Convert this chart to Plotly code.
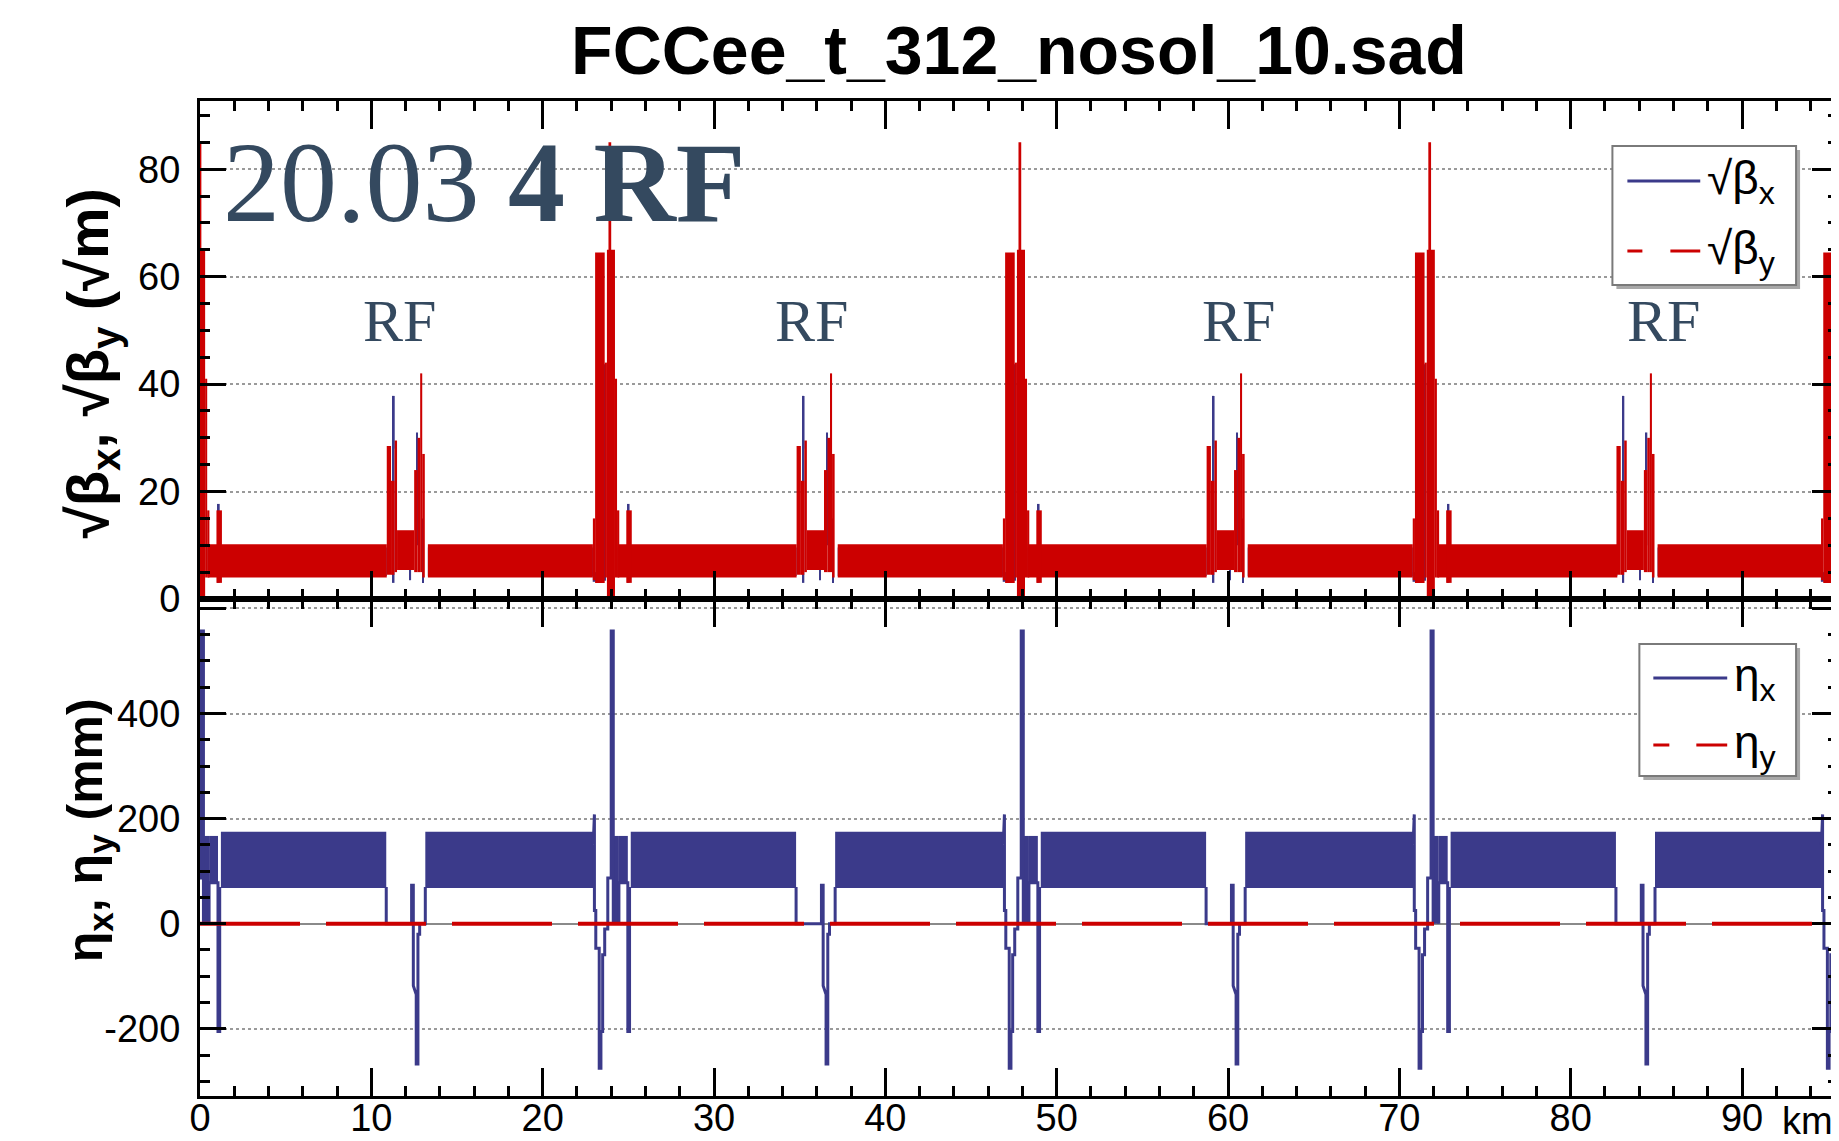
import plotly.graph_objects as go

# ---------------- data ----------------
RING_KM = 95.6                                   # length shown on the s axis (km)
IR_KM = [0.0, 23.92, 47.85, 71.77, 95.6]         # interaction-region centres (tall peaks)
QUARTER_KM = [0.0, 23.92, 47.85, 71.77]          # superperiod starts (RF straight sits ~11-13 km later)

# arcs: dense regular cells drawn as min/max envelopes
ARC_START = [0.45, 13.30, 24.37, 37.22, 48.30, 61.15, 72.22, 85.07]
ARC_END = [10.90, 22.93, 34.82, 46.86, 58.75, 70.78, 82.72, 94.66]
SQBX_ARC = (4.3, 9.6)        # sqrt(beta_x) envelope in the arcs (sqrt m)
SQBY_ARC = (4.0, 10.2)       # sqrt(beta_y) envelope in the arcs (sqrt m)

ETA_ARC_START = [1.22, 13.15, 25.14, 37.07, 49.07, 61.00, 72.99, 84.92]
ETA_ARC_END = [10.87, 22.95, 34.79, 46.87, 58.72, 70.80, 82.64, 94.66]
ETAX_ARC = (68.0, 175.0)     # eta_x envelope in the arcs (mm)

# interaction region, offsets from the IR centre (km) -> sqrt(beta) blocks
IR_BY_X0 = [-0.99, -0.86, -0.30, -0.17, -0.08, 0.30, 0.42, 0.96]
IR_BY_X1 = [-0.86, -0.30, -0.17, 0.30, 0.08, 0.42, 0.55, 1.28]
IR_BY_LO = [3.5, 3.0, 4.0, 0.5, 0.0, 4.0, 4.0, 3.0]
IR_BY_HI = [15.0, 64.5, 44.0, 65.0, 85.0, 41.0, 16.5, 16.5]
IR_BX_X0 = [-1.00, -0.30, 1.05]
IR_BX_X1 = [-0.70, -0.22, 1.15]
IR_BX_LO = [3.2, 3.4, 3.0]
IR_BX_HI = [5.0, 43.7, 17.7]

# RF straight, offsets from the superperiod start (km) -> sqrt(beta) blocks
RF_BY_X0 = [10.90, 11.15, 11.35, 11.50, 12.50, 12.70, 12.85, 12.97]
RF_BY_X1 = [11.15, 11.35, 11.50, 12.50, 12.70, 12.85, 12.97, 13.12]
RF_BY_LO = [4.5, 4.5, 5.0, 5.4, 5.0, 5.0, 5.0, 4.0]
RF_BY_HI = [28.5, 22.0, 29.5, 12.8, 24.0, 30.0, 42.0, 27.0]
RF_BX_X0 = [11.25, 12.25, 12.62, 12.98]
RF_BX_X1 = [11.35, 12.32, 12.70, 13.05]
RF_BX_LO = [3.0, 3.5, 10.0, 3.0]
RF_BX_HI = [37.8, 6.0, 31.0, 15.0]

# eta_x around the IR (offsets from IR centre, km / mm)
IR_ETA_DS = [-0.97, -0.93, -0.90, -0.90, -0.82, -0.82, -0.62, -0.62, -0.52, -0.52,
             -0.42, -0.42, -0.30, -0.30, -0.12, -0.12, 0.08, 0.08, 0.20, 0.20]
IR_ETA = [150, 208, 208, 25, 25, -47, -47, -275, -275, -205,
          -205, -59, -59, -10, -10, 87, 87, 557, 557, 0]
IR_ETA_DS2 = [0.53, 0.53, 1.05, 1.05, 1.15, 1.15]
IR_ETA2 = [0, 78, 78, -205, -205, 70]
IR_ETA_BX0 = [0.20, 0.53]
IR_ETA_BX1 = [0.53, 1.05]
IR_ETA_BLO = [0.0, 78.0]
IR_ETA_BHI = [167.0, 167.0]

# eta_x through the RF straight (offsets from superperiod start)
RF_ETA_DS = [10.87, 10.87, 12.35, 12.35, 12.45, 12.45, 12.62, 12.62, 12.72, 12.72, 12.82, 12.82, 13.15, 13.15]
RF_ETA = [70, 0, 0, 73, 73, -118, -135, -267, -267, -20, -20, 0, 0, 70]

ETAY_S = [0.0, RING_KM]
ETAY = [0.0, 0.0]

RF_LABEL_KM = [11.65, 35.7, 60.6, 85.4]
RF_LABEL_Y = 51.7

# ---------------- styles ----------------
BLUE = "#3b3a8a"
RED = "#cc0000"
TXT = "#34495f"
SANS = "Liberation Sans, Arial, sans-serif"
SERIF = "Liberation Serif, Times New Roman, serif"

W, H = 1839, 1141
ML, MR, MT, MB = 192, 6, 93, 53
PW, PH = W - ML - MR, H - MT - MB


def PX(x):
    return (x - ML) / PW


def PY(y):
    return 1 - (y - MT) / PH


def blocks(x0s, x1s, los, his, centres):
    xs, ws, bs, hs = [], [], [], []
    for c in centres:
        for a, b, lo, hi in zip(x0s, x1s, los, his):
            s0, s1 = c + a, c + b
            if s1 <= 0 or s0 >= RING_KM:
                continue
            xs.append((s0 + s1) / 2)
            ws.append(s1 - s0)
            bs.append(lo)
            hs.append(hi - lo)
    return xs, ws, bs, hs


def arcs(starts, ends, env):
    xs = [(a + b) / 2 for a, b in zip(starts, ends)]
    ws = [b - a for a, b in zip(starts, ends)]
    return xs, ws, [env[0]] * len(xs), [env[1] - env[0]] * len(xs)


def polyline(ds, vals, centres):
    xs, ys = [], []
    for c in centres:
        for d, v in zip(ds, vals):
            xs.append(c + d)
            ys.append(v)
        xs.append(None)
        ys.append(None)
    return xs, ys


def bar(data, color, xa, ya):
    x, w, b, h = data
    return go.Bar(x=x, y=h, base=b, width=w, marker=dict(color=color, line=dict(width=0)),
                  xaxis=xa, yaxis=ya, showlegend=False, hoverinfo="skip")


fig = go.Figure()

# ---- top panel: sqrt(beta) ----
fig.add_trace(bar(arcs(ARC_START, ARC_END, SQBX_ARC), BLUE, "x", "y"))
fig.add_trace(bar(blocks(IR_BX_X0, IR_BX_X1, IR_BX_LO, IR_BX_HI, IR_KM), BLUE, "x", "y"))
fig.add_trace(bar(blocks(RF_BX_X0, RF_BX_X1, RF_BX_LO, RF_BX_HI, QUARTER_KM), BLUE, "x", "y"))
fig.add_trace(bar(arcs(ARC_START, ARC_END, SQBY_ARC), RED, "x", "y"))
fig.add_trace(bar(blocks(IR_BY_X0, IR_BY_X1, IR_BY_LO, IR_BY_HI, IR_KM), RED, "x", "y"))
fig.add_trace(bar(blocks(RF_BY_X0, RF_BY_X1, RF_BY_LO, RF_BY_HI, QUARTER_KM), RED, "x", "y"))
fig.add_trace(bar(blocks(RF_BX_X0[:1], RF_BX_X1[:1], [28.0], RF_BX_HI[:1], QUARTER_KM), BLUE, "x", "y"))

# ---- bottom panel: dispersion ----
fig.add_trace(bar(arcs(ETA_ARC_START, ETA_ARC_END, ETAX_ARC), BLUE, "x2", "y2"))
fig.add_trace(bar(blocks(IR_ETA_BX0, IR_ETA_BX1, IR_ETA_BLO, IR_ETA_BHI, IR_KM), BLUE, "x2", "y2"))
for ds, vals, cs in [(IR_ETA_DS, IR_ETA, IR_KM), (IR_ETA_DS2, IR_ETA2, IR_KM), (RF_ETA_DS, RF_ETA, QUARTER_KM)]:
    px, py = polyline(ds, vals, cs)
    fig.add_trace(go.Scatter(x=px, y=py, mode="lines", line=dict(color=BLUE, width=3),
                             xaxis="x2", yaxis="y2", showlegend=False, hoverinfo="skip"))
fig.add_trace(go.Scatter(x=ETAY_S, y=ETAY, mode="lines",
                         line=dict(color=RED, width=4, dash="100px,26px"),
                         xaxis="x2", yaxis="y2", showlegend=False, hoverinfo="skip"))

# ---------------- layout ----------------
TICKFONT = dict(family=SANS, size=38, color="black")
xcommon = dict(range=[0, RING_KM], dtick=10, tick0=0, ticks="inside", ticklen=28, tickwidth=3,
               tickcolor="black", showline=True, linewidth=3, linecolor="black", mirror="allticks",
               showgrid=False, zeroline=False, tickfont=TICKFONT,
               minor=dict(dtick=2, tick0=0, ticks="inside", ticklen=10, tickwidth=3, tickcolor="black",
                          showgrid=False))
ycommon = dict(ticks="inside", ticklen=26, tickwidth=3, tickcolor="black", showline=True, linewidth=3,
               linecolor="black", mirror="allticks", showgrid=True, gridcolor="#9a9a9a", gridwidth=1.5,
               griddash="dot", tickfont=TICKFONT, ticklabelstandoff=9)

SPLIT = 0.4995
fig.update_layout(
    width=W, height=H,
    margin=dict(l=ML, r=MR, t=MT, b=MB),
    paper_bgcolor="white", plot_bgcolor="white",
    barmode="overlay", showlegend=False,
    title=dict(text="<b>FCCee_t_312_nosol_10.sad</b>", xref="paper", x=0.5, xanchor="center",
               yref="container", y=1 - 42 / H, yanchor="middle",
               font=dict(family=SANS, size=68, color="black")),
    xaxis=dict(xcommon, anchor="y", showticklabels=False),
    xaxis2=dict(xcommon, anchor="y2", matches="x", showticklabels=True, ticklabelstandoff=-14,
                tickvals=[0, 10, 20, 30, 40, 50, 60, 70, 80, 90]),
    yaxis=dict(ycommon, domain=[SPLIT, 1], range=[0, 92.7], dtick=20, tick0=0, zeroline=False,
               minor=dict(dtick=5, tick0=0, ticks="inside", ticklen=10, tickwidth=3, tickcolor="black",
                          showgrid=False)),
    yaxis2=dict(ycommon, domain=[0, SPLIT], range=[-328, 618],
                tickvals=[-200, 0, 200, 400, 600], ticktext=["-200", "0", "200", "400", ""],
                zeroline=True, zerolinecolor="#8a8a8a", zerolinewidth=1.5,
                minor=dict(dtick=50, tick0=0, ticks="inside", ticklen=10, tickwidth=3, tickcolor="black",
                           showgrid=False)),
)

annotations = [
    dict(text="20.03 <b>4 RF</b>", xref="paper", yref="paper", x=PX(213), y=PY(174), xanchor="left",
         yanchor="middle", showarrow=False, font=dict(family=SERIF, size=114, color=TXT)),
    dict(text="<b>√β<sub>x</sub>, √β<sub>y</sub> (√m)</b>",
         xref="paper", yref="paper", x=PX(84), y=PY(355), textangle=-90, showarrow=False,
         xanchor="center", yanchor="middle", font=dict(family=SANS, size=58, color="black")),
    dict(text="<b>η<sub>x</sub>, η<sub>y</sub> (mm)</b>", xref="paper", yref="paper", x=PX(80), y=PY(822),
         textangle=-90, showarrow=False, xanchor="center", yanchor="middle",
         font=dict(family=SANS, size=50, color="black")),
    dict(text="km", xref="x2", yref="paper", x=92.2, y=PY(1113), xanchor="left", yanchor="middle",
         showarrow=False, font=TICKFONT),
]
for s in RF_LABEL_KM:
    annotations.append(dict(text="RF", xref="x", yref="y", x=s, y=RF_LABEL_Y, showarrow=False,
                            xanchor="center", yanchor="middle", font=dict(family=SERIF, size=60, color=TXT)))

# ---- legends (drawn as boxes with sample lines, positions in pixels of the figure) ----
LEGFONT = dict(family=SANS, size=46, color="black")
shapes = []


def legend_box(x0, y0, x1, y1):
    shapes.append(dict(type="rect", xref="paper", yref="paper", x0=PX(x0 + 4), x1=PX(x1 + 4),
                       y0=PY(y1 + 4), y1=PY(y0 + 4), fillcolor="#a8a8a8", line=dict(width=0)))
    shapes.append(dict(type="rect", xref="paper", yref="paper", x0=PX(x0), x1=PX(x1),
                       y0=PY(y1), y1=PY(y0), fillcolor="white", line=dict(color="#7a7a7a", width=2)))


def legend_entry(xl0, xl1, y, color, dash, label, xt):
    shapes.append(dict(type="line", xref="paper", yref="paper", x0=PX(xl0), x1=PX(xl1), y0=PY(y), y1=PY(y),
                       line=dict(color=color, width=3, dash=dash)))
    annotations.append(dict(text=label, xref="paper", yref="paper", x=PX(xt), y=PY(y), xanchor="left",
                            yanchor="middle", showarrow=False, font=LEGFONT))


legend_box(1607, 138, 1791, 277)
legend_entry(1622, 1695, 173, BLUE, "solid", "√β<sub>x</sub>", 1700)
legend_entry(1622, 1695, 243, RED, "15px,28px,30px", "√β<sub>y</sub>", 1700)
legend_box(1634, 636, 1791, 768)
legend_entry(1648, 1722, 670, BLUE, "solid", "η<sub>x</sub>", 1727)
legend_entry(1648, 1722, 737, RED, "16px,27px,31px", "η<sub>y</sub>", 1727)

fig.update_layout(annotations=annotations, shapes=shapes)

fig.write_html("out.html")
